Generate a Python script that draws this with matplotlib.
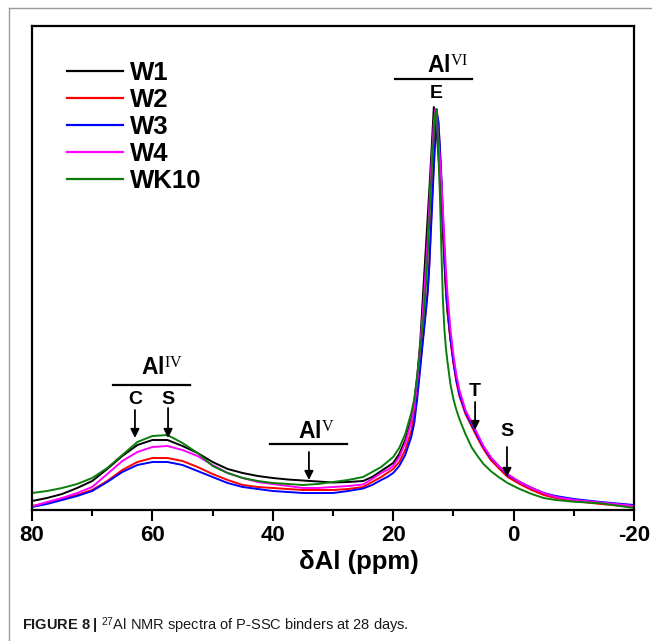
import matplotlib
matplotlib.use("Agg")
import matplotlib.pyplot as plt
from matplotlib import font_manager
from matplotlib.lines import Line2D

# ---------------------------------------------------------------- fonts
_names = {f.name for f in font_manager.fontManager.ttflist}
SANS = "Liberation Sans" if "Liberation Sans" in _names else "DejaVu Sans"
NARROW = "Liberation Sans Narrow" if "Liberation Sans Narrow" in _names else SANS
SERIF = "Liberation Serif" if "Liberation Serif" in _names else "DejaVu Serif"

plt.rcParams["font.family"] = [SANS, "DejaVu Sans"]
plt.rcParams["mathtext.fontset"] = "custom"
plt.rcParams["mathtext.it"] = SERIF          # roman numerals of the Al sites
plt.rcParams["mathtext.rm"] = NARROW
plt.rcParams["mathtext.bf"] = NARROW + ":bold"

# ---------------------------------------------------------------- data
# chemical shift (ppm) and 27Al NMR intensity (a.u.)
shift = [80, 77.5, 75, 72.5, 70, 67.5, 65, 62.5, 60, 57.5,
         55, 52.5, 50, 47.5, 45, 42.5, 40, 37.5, 35, 32.5,
         30, 27.5, 25, 23.5, 22, 21, 20, 19, 18, 17,
         16.5, 16, 15.5, 15, 14.5, 14.25, 14, 13.75, 13.5, 13.25,
         13, 12.75, 12.5, 12.25, 12, 11.75, 11.5, 11.25, 11, 10.5,
         10, 9.5, 9, 8, 7, 6, 5, 3.8, 2.5, 1,
         -1, -3, -5, -7, -10, -14.5, -20]

w1 = [10, 13, 17, 23, 30, 42, 55, 66, 71, 71,
      65, 58, 49, 42, 38, 35, 33, 31.5, 30.5, 29.5,
      28.5, 29, 30, 34, 40, 44, 48, 57, 71, 92,
      110, 135, 170, 221, 271, 296, 321, 348, 376, 404,
      392, 376, 357, 336, 310, 278, 248, 220, 200, 172,
      150, 132, 118, 99, 87, 75, 64, 53, 45, 36,
      29, 23, 18, 14, 11, 8.5, 4]
w2 = [5, 8, 12, 16, 21, 30, 41, 49, 53, 53,
      50, 44, 37, 31, 26, 24, 23, 22, 21, 21,
      21, 22, 24, 29, 34, 38, 42, 49, 61, 80,
      96, 118, 147, 176, 206, 222, 248, 284, 318, 350,
      378, 400, 388, 362, 330, 292, 258, 226, 203, 172,
      148, 129, 115, 97, 85, 73, 62, 51, 43, 34,
      27, 21, 16, 13, 10, 7, 4]
w3 = [4, 7, 11, 15, 20, 29, 39, 46, 49, 49,
      46, 40, 34, 28, 24, 22, 20, 19, 18, 18,
      18, 20, 22.5, 26, 31, 34, 38, 45, 56, 74,
      88, 113, 143, 174, 204, 220, 245, 278, 310, 343,
      372, 398, 390, 365, 334, 296, 260, 228, 205, 174,
      150, 131, 117, 99, 87, 75, 64, 53, 45, 36,
      29, 23, 18, 15, 12, 9, 6]
w4 = [4.5, 9, 13, 18, 24, 37, 50, 59, 64, 65,
      61, 55, 46, 38, 33, 29, 27, 25, 23, 23,
      24, 25, 26.5, 32, 38, 41, 45, 54, 68, 89,
      105, 130, 165, 205, 250, 275, 305, 335, 362, 388,
      402, 390, 372, 352, 330, 302, 272, 242, 218, 182,
      156, 136, 121, 101, 89, 77, 65, 54, 45, 37,
      29, 23, 18, 14, 11, 8.5, 5]
wk10 = [18, 20, 23, 27, 33, 43, 56, 69, 75, 76,
        68, 58, 45, 38, 33, 30, 28, 27, 26, 27,
        29, 31, 34, 39, 44, 49, 54, 63, 77, 98,
        112, 136, 163, 190, 230, 258, 290, 321, 350, 377,
        398, 402, 357, 318, 262, 212, 182, 163, 150, 127,
        112, 101, 92, 77, 64, 55, 47, 40, 34, 28,
        22, 17, 13, 11, 9.3, 7.7, 3]

series = ["W1", "W2", "W3", "W4", "WK10"]
values = [w1, w2, w3, w4, wk10]
colors = ["#000000", "#ff0000", "#0000ff", "#ff00ff", "#0a7d0a"]

x_ticks = [80, 60, 40, 20, 0, -20]
x_minor = [70, 50, 30, 10, -10]

# ---------------------------------------------------------------- figure
W, H = 652, 641
fig = plt.figure(figsize=(W / 100, H / 100), dpi=100)
ax = fig.add_axes([32 / W, 1 - 510 / H, (634 - 32) / W, (510 - 26) / H])

for name, y, c in zip(series, values, colors):
    ax.plot(shift, y, color=c, lw=1.4, label=name, solid_joinstyle="round")

ax.set_xlim(80, -20)
ax.set_ylim(1, 485)
ax.set_xticks(x_ticks)
ax.set_xticks(x_minor, minor=True)
ax.set_xticklabels([str(t) for t in x_ticks], fontsize=16, fontweight="bold")
ax.tick_params(axis="x", which="major", direction="out", length=8, width=1.5, pad=3)
ax.tick_params(axis="x", which="minor", direction="out", length=4, width=1.5)
ax.set_yticks([])
for s in ax.spines.values():
    s.set_linewidth(1.6)
ax.set_xlabel("δAl (ppm)", fontsize=18.5, fontweight="bold", labelpad=3, x=0.543)

leg = ax.legend(loc="upper left", bbox_to_anchor=(0.058, 0.928), frameon=False,
                prop={"size": 18.5, "weight": "bold"}, handlelength=2.2,
                handletextpad=0.27, labelspacing=0.12, borderaxespad=0,
                borderpad=0)
for h in leg.get_lines():
    h.set_linewidth(1.6)

# ---------------------------------------------------------------- site labels
lab = dict(fontsize=16.5, fontweight="bold", ha="center", va="baseline")
small = dict(fontsize=14, fontweight="bold", ha="center", va="center")
arrow = dict(arrowstyle="-|>", color="k", lw=1.3, mutation_scale=13,
             shrinkA=0, shrinkB=0)

# octahedral Al
ax.text(10.9, 437, r"Al$^{VI}$", **lab)
ax.plot([19.7, 6.9], [432, 432], color="k", lw=1.6)
ax.text(12.9, 418, "E", **small)

# tetrahedral Al
ax.text(58.4, 135, r"Al$^{IV}$", **lab)
ax.plot([66.5, 53.8], [126, 126], color="k", lw=1.6)
ax.text(62.9, 112, "C", **small)
ax.text(57.4, 112, "S", **small)
ax.annotate("", xy=(62.9, 73), xytext=(62.9, 101), arrowprops=arrow)
ax.annotate("", xy=(57.4, 73), xytext=(57.4, 103), arrowprops=arrow)

# pentahedral Al
ax.text(32.8, 72, r"Al$^{V}$", **lab)
ax.plot([40.5, 27.7], [67, 67], color="k", lw=1.6)
ax.annotate("", xy=(34.0, 31), xytext=(34.0, 59), arrowprops=arrow)

# shoulders of the octahedral peak
ax.text(6.4, 119, "T", **small)
ax.annotate("", xy=(6.4, 81), xytext=(6.4, 109), arrowprops=arrow)
ax.text(1.1, 79, "S", **small)
ax.annotate("", xy=(1.1, 34), xytext=(1.1, 64), arrowprops=arrow)

# ---------------------------------------------------------------- page frame + caption
fig.add_artist(Line2D([9 / W, 9 / W], [0, 1 - 8 / H], color="#9a9a9a", lw=1.0))
fig.add_artist(Line2D([9 / W, 1], [1 - 8 / H, 1 - 8 / H], color="#9a9a9a", lw=1.0))

fig.text(22 / W, 1 - 630 / H,
         r"$\mathbf{FIGURE\ 8\ |}$ $^{27}$Al NMR spectra of P-SSC binders at 28 days.",
         fontsize=10.5, family=[NARROW, "DejaVu Sans"], color="#1a1a1a",
         ha="left", va="baseline")

fig.savefig("out.png", dpi=100)
